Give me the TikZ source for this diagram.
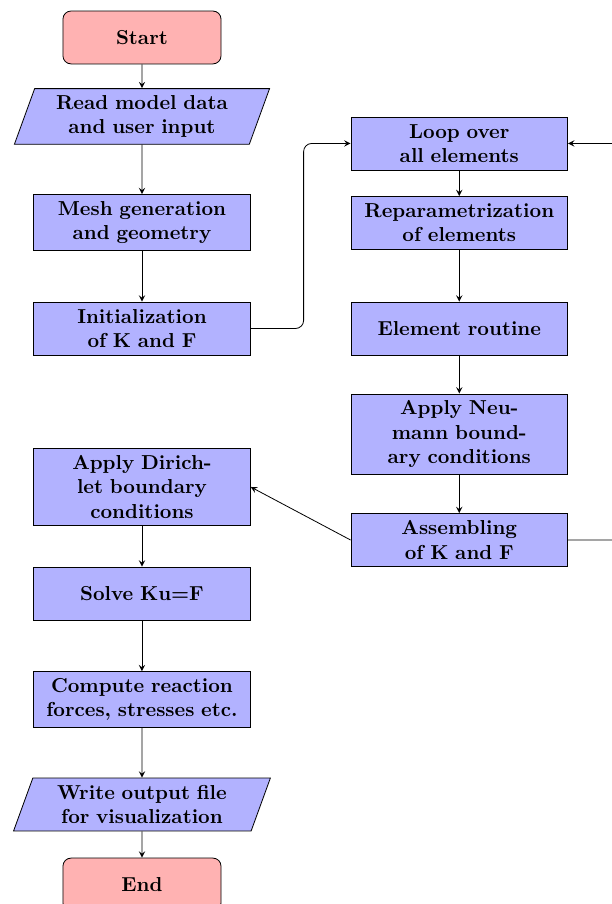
\documentclass[tikz,border=0pt]{standalone}
\usetikzlibrary{shapes.geometric}

\tikzset{
  startstop/.style={rectangle, rounded corners, draw=black, fill=red!30,
    minimum width=2.75cm, minimum height=0.92cm, font=\bfseries},
  process/.style={rectangle, draw=black, fill=blue!30, text width=3.5cm,
    align=center, minimum width=3.77cm, minimum height=0.92cm, font=\bfseries},
  narrow/.style={process, text width=2.5cm},
  io/.style={trapezium, trapezium left angle=70, trapezium right angle=110,
    draw=black, fill=blue!30, text width=3.5cm, align=center,
    minimum height=0.92cm, font=\bfseries},
  flow/.style={->, >=stealth}
}

\begin{document}
\begin{tikzpicture}

% Define the position of the second column
\def\colB{5.52}

% Fix the visible frame
\useasboundingbox (-2.47,0.652) rectangle (8.177,-15.075);
\clip (-2.47,0.652) rectangle (8.177,-15.075);

% Left column: preprocessing
\node[startstop] (start) at (0,0) {Start};
\node[io] (read) at (0,-1.374) {Read model data and user input};
\node[process] (mesh) at (0,-3.219) {Mesh generation and geometry};
\node[process] (init) at (0,-5.063) {Initialization of K and F};

% Right column: element loop
\node[process] (loop) at (\colB,-1.844) {Loop over\\all elements};
\node[process] (reparam) at (\colB,-3.227) {Reparametrization of elements};
\node[process] (elem) at (\colB,-5.063) {Element routine};
\node[narrow] (neumann) at (\colB,-6.898) {Apply Neumann boundary conditions};
\node[process] (assem) at (\colB,-8.742) {Assembling\\of K and F};

% Left column: solution and postprocessing
\node[narrow] (dirichlet) at (0,-7.82) {Apply Dirichlet boundary conditions};
\node[process] (solve) at (0,-9.673) {Solve Ku=F};
\node[process] (compute) at (0,-11.517) {Compute reaction forces, stresses etc.};
\node[io] (write) at (0,-13.344) {Write output file for visualization};
\node[startstop] (stop) at (0,-14.736) {End};

% Draw the connectors
\begin{scope}[flow]
\draw (start) -- (read);
\draw (read) -- (mesh);
\draw (mesh) -- (init);
\draw[rounded corners] (init.east) -- ++(0.92,0) |- (loop.west);
\draw (loop) -- (reparam);
\draw (reparam) -- (elem);
\draw (elem) -- (neumann);
\draw (neumann) -- (assem);
\draw[rounded corners] (assem.east) -- ++(1,0) |- (loop.east);
\draw (assem.west) -- (dirichlet.east);
\draw (dirichlet) -- (solve);
\draw (solve) -- (compute);
\draw (compute) -- (write);
\draw (write) -- (stop);
\end{scope}

\end{tikzpicture}
\end{document}
